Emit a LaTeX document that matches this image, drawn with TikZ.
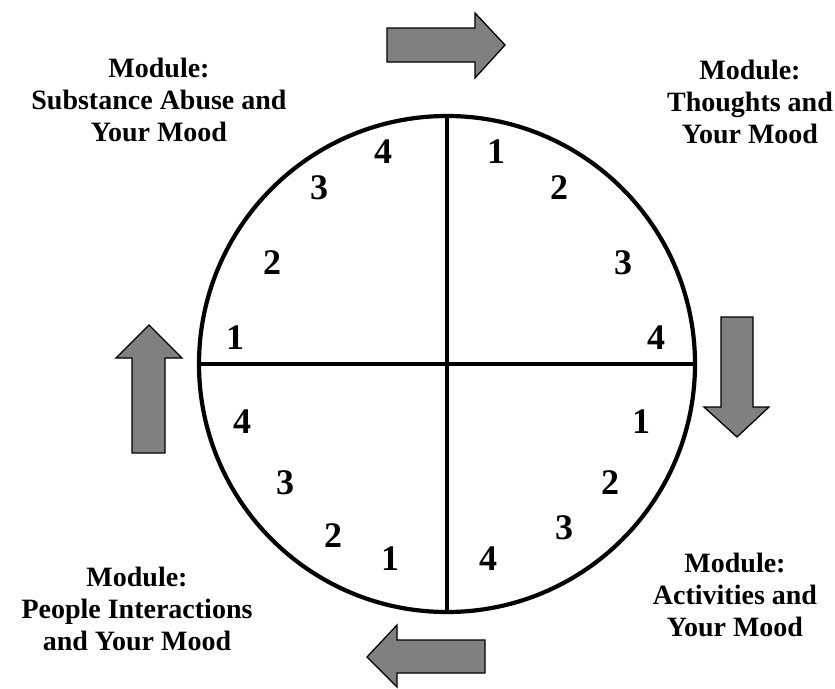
\documentclass[tikz,border=0pt]{standalone}
\usepackage{fontspec}
\setmainfont{Liberation Serif}
\usetikzlibrary{positioning}
\definecolor{arrowgray}{RGB}{128,128,128}
\tikzset{
  wheel/.style={circle, draw, line width=4.2pt, minimum size=496pt, inner sep=0pt, outer sep=0pt},
  divider/.style={line width=3.4pt},
  modlabel/.style={font=\bfseries\fontsize{28}{32}\selectfont, align=center, inner sep=0pt},
  numlabel/.style={font=\bfseries\fontsize{36}{36}\selectfont, inner sep=0pt},
  turnarrow/.style={fill=arrowgray, draw=black, line width=1.3pt, line join=miter}
}
\begin{document}
\begin{tikzpicture}[x=1pt,y=-1pt]
	\useasboundingbox (0,0) rectangle (835,688);
	
	\node[wheel] (wheel) at (447,364) {};
	\draw[divider] (wheel.north) -- (wheel.south);
	\draw[divider] (wheel.west) -- (wheel.east);
	
	% session numbers, clockwise from the top
	\foreach \x/\y/\n [count=\i] in {496/152/1, 559/188/2, 623/263/3, 656/338/4,
		641/422/1, 610/483/2, 564/528/3, 488/559/4,
		390/559/1, 333/536/2, 285/483/3, 242/422/4,
		235/338/1, 272/263/2, 319/188/3, 383/152/4}
		\node[numlabel] (num\i) at (\x,\y) {\n};
	
	\node[modlabel] (substance) at (159,100) {Module:\\Substance Abuse and\\Your Mood};
	\node[modlabel] (thoughts) at (750,102) {Module:\\Thoughts and\\Your Mood};
	\node[modlabel] (activities) at (735,595) {Module:\\Activities and\\Your Mood};
	\node[modlabel] (people) at (137,609) {Module:\\People Interactions\\and Your Mood};
	
	% arrows between the modules
	\draw[turnarrow] (387,28) -- (475,28) -- (475,13) -- (505,45) -- (475,78) -- (475,62) -- (387,62) -- cycle;
	\draw[turnarrow] (721,317) -- (753,317) -- (753,407) -- (769,407) -- (737,437) -- (704,407) -- (721,407) -- cycle;
	\draw[turnarrow] (485,640) -- (397,640) -- (397,625) -- (367,657) -- (397,687) -- (397,673) -- (485,673) -- cycle;
	\draw[turnarrow] (132,453) -- (132,358) -- (116,358) -- (149,325) -- (182,358) -- (165,358) -- (165,453) -- cycle;
\end{tikzpicture}
\end{document}
